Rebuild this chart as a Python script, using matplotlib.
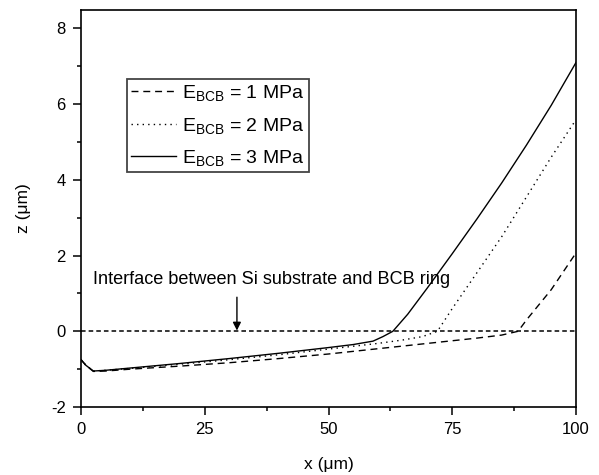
import matplotlib
matplotlib.use("Agg")
import matplotlib.pyplot as plt
from matplotlib.ticker import MultipleLocator

plt.rcParams['font.family'] = ['Liberation Sans', 'DejaVu Sans']
plt.rcParams['mathtext.fontset'] = 'custom'
plt.rcParams['mathtext.rm'] = 'Liberation Sans'
plt.rcParams['mathtext.it'] = 'Liberation Sans:italic'
plt.rcParams['axes.unicode_minus'] = False

# Data
x1 = [0, 1, 2.5, 5, 10, 20, 30, 40, 50, 60, 70, 80, 85, 88.3, 90, 95, 100]
z1 = [-0.75, -0.9, -1.06, -1.05, -1.0, -0.92, -0.83, -0.72, -0.6, -0.46, -0.32, -0.18, -0.1, 0.0, 0.3, 1.1, 2.07]

x2 = [0, 1, 2.5, 5, 10, 20, 30, 40, 50, 60, 65, 69, 70.5, 72, 75, 80, 85, 90, 95, 100]
z2 = [-0.75, -0.9, -1.05, -1.03, -0.98, -0.87, -0.75, -0.62, -0.47, -0.32, -0.23, -0.14, -0.07, 0.0, 0.6, 1.55, 2.5, 3.55, 4.6, 5.59]

x3 = [0, 1, 2.5, 5, 10, 20, 30, 40, 50, 55, 59, 61, 63, 66, 70, 75, 80, 85, 90, 95, 100]
z3 = [-0.75, -0.9, -1.05, -1.03, -0.97, -0.85, -0.72, -0.58, -0.43, -0.35, -0.26, -0.14, 0.0, 0.45, 1.15, 2.05, 2.97, 3.92, 4.92, 5.97, 7.1]

interface_x = [0, 100]
interface_z = [0, 0]

labels = [r'E$_{\mathrm{BCB}}$ = 1 MPa', r'E$_{\mathrm{BCB}}$ = 2 MPa', r'E$_{\mathrm{BCB}}$ = 3 MPa']
annot_text = 'Interface between Si substrate and BCB ring'

fig = plt.figure(figsize=(5.99, 4.75), dpi=100)
ax = fig.add_axes([81/599, 1-407/475, 495/599, 397.5/475])

ax.plot(x1, z1, color='black', lw=1.0, ls=(0, (5, 3.5)), label=labels[0])
ax.plot(x2, z2, color='black', lw=1.0, ls=(0, (1, 3)), label=labels[1])
ax.plot(x3, z3, color='black', lw=1.0, ls='-', label=labels[2])
ax.plot(interface_x, interface_z, color='black', lw=1.1, ls=(0, (3, 2)))

ax.annotate('', xy=(31.5, 0.02), xytext=(31.5, 0.9),
            arrowprops=dict(arrowstyle='-|>', color='black', lw=1.0,
                            mutation_scale=12, shrinkA=0, shrinkB=0))
ax.text(2.4, 1.38, annot_text, fontsize=13.1, va='center', ha='left')

ax.set_xlim(0, 100)
ax.set_ylim(-2, 8.5)
ax.xaxis.set_major_locator(MultipleLocator(25))
ax.xaxis.set_minor_locator(MultipleLocator(12.5))
ax.yaxis.set_major_locator(MultipleLocator(2))
ax.yaxis.set_minor_locator(MultipleLocator(1))
ax.tick_params(which='major', direction='out', length=6, width=1.1, labelsize=12, pad=5)
ax.tick_params(which='minor', direction='out', length=3, width=1.1)
for s in ax.spines.values():
    s.set_linewidth(1.2)

ax.set_xlabel('x (\u03bcm)', fontsize=12.5, labelpad=14)
ax.set_ylabel('z (\u03bcm)', fontsize=12.5, labelpad=14)

leg = ax.legend(loc='upper left', bbox_to_anchor=(0.093, 0.825), borderaxespad=0,
                fontsize=14, frameon=True, fancybox=False, framealpha=1,
                edgecolor='#444444', handlelength=2.3, handletextpad=0.35,
                labelspacing=0.65, borderpad=0.2)
leg.get_frame().set_linewidth(1.3)

fig.savefig('out.png', dpi=100)
